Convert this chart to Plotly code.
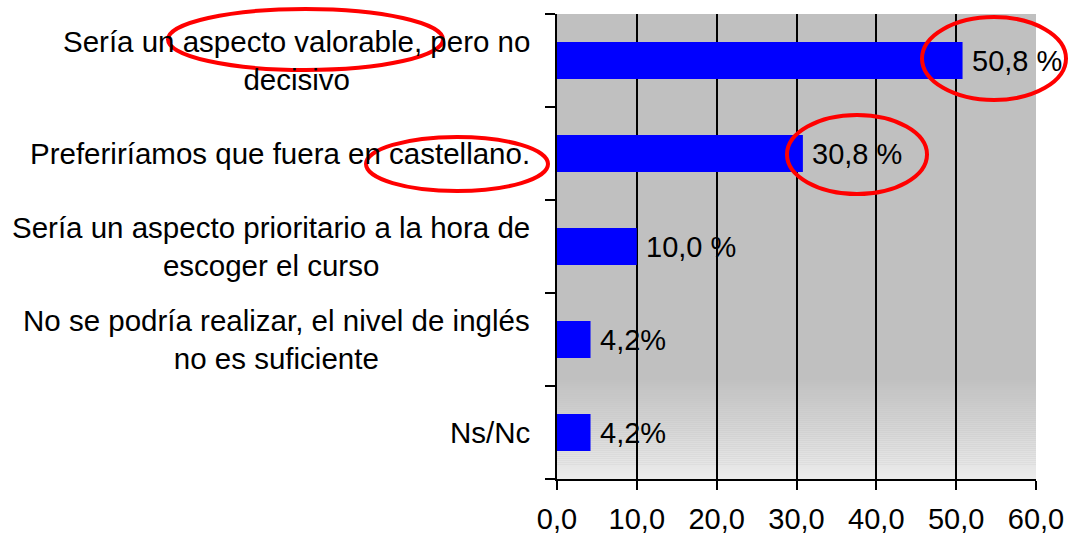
import plotly.graph_objects as go

categories = [
    "Sería un aspecto valorable, pero no<br>decisivo",
    "Preferiríamos que fuera en castellano.",
    "Sería un aspecto prioritario a la hora de<br>escoger el curso",
    "No se podría realizar, el nivel de inglés<br>no es suficiente",
    "Ns/Nc",
]
values = [50.8, 30.8, 10.0, 4.2, 4.2]
value_labels = ["50,8 %", "30,8 %", "10,0 %", "4,2%", "4,2%"]
x_tickvals = [0, 10, 20, 30, 40, 50, 60]
x_ticktext = ["0,0", "10,0", "20,0", "30,0", "40,0", "50,0", "60,0"]

W, H = 1069, 538
L, R, T, B = 557, 1036, 14, 479
FONT = "Liberation Sans, Arial, sans-serif"

def px(x):
    return (x - L) / (R - L)

def py(y):
    return (B - y) / (B - T)

fig = go.Figure()
fig.add_trace(go.Bar(
    y=list(range(len(categories))), x=values, orientation="h",
    marker=dict(color="#0000FF", line=dict(width=0)),
    width=0.4, cliponaxis=False, hoverinfo="skip",
))

shapes = []
# gradient at bottom of plot area
g0, g1 = 378, B
n = 50
for i in range(n):
    y0 = g0 + (g1 - g0) * i / n
    y1 = g0 + (g1 - g0) * (i + 1) / n
    t = (i + 0.5) / n
    c = int(round(192 + (236 - 192) * t))
    shapes.append(dict(type="rect", xref="paper", yref="paper",
                       x0=0, x1=1, y0=py(y1), y1=py(y0),
                       fillcolor=f"rgb({c},{c},{c})", line=dict(width=0),
                       layer="below"))

ellipses = [
    (922, 1066, 17, 100),
    (787, 927, 115, 194),
    (168, 443, 9, 70),
    (366, 548, 137, 191),
]
for x0, x1, y0, y1 in ellipses:
    shapes.append(dict(type="circle", xref="paper", yref="paper",
                       x0=px(x0), x1=px(x1), y0=py(y1), y1=py(y0),
                       line=dict(color="#FF0000", width=4),
                       fillcolor="rgba(0,0,0,0)", layer="above"))

annotations = []
for i, c in enumerate(categories):
    annotations.append(dict(
        xref="paper", yref="y", x=px(532), y=i, xanchor="right",
        yanchor="middle", align="center", text=c, showarrow=False,
        font=dict(family=FONT, size=29.5, color="black"),
    ))
for i, (v, lab) in enumerate(zip(values, value_labels)):
    annotations.append(dict(
        xref="x", yref="y", x=v, y=i, xanchor="left", xshift=7,
        yanchor="middle", text=lab, showarrow=False,
        font=dict(family=FONT, size=29, color="black"),
    ))

fig.update_layout(
    width=W, height=H,
    margin=dict(l=L, r=W - R, t=T, b=H - B, pad=0, autoexpand=False),
    paper_bgcolor="white", plot_bgcolor="#C0C0C0",
    showlegend=False, bargap=0.6,
    shapes=shapes, annotations=annotations,
    font=dict(family=FONT, size=29, color="black"),
    xaxis=dict(
        range=[0, 60], tickvals=x_tickvals, ticktext=x_ticktext,
        showgrid=True, gridcolor="black", gridwidth=2,
        showline=True, linecolor="black", linewidth=2,
        ticks="outside", ticklen=9, tickwidth=2, tickcolor="black",
        tickfont=dict(family=FONT, size=29, color="black"),
        ticklabelstandoff=4,
        zeroline=False, fixedrange=True, automargin=False,
    ),
    yaxis=dict(
        range=[len(categories) - 0.5, -0.5],
        tickvals=[i - 0.5 for i in range(len(categories) + 1)],
        showticklabels=False,
        showgrid=False, zeroline=False,
        showline=True, linecolor="black", linewidth=2,
        ticks="outside", ticklen=10, tickwidth=2, tickcolor="black",
        fixedrange=True, automargin=False,
    ),
)

fig.write_html(
    "out.html",
    config={"displayModeBar": False},
    post_script="document.body.style.margin='0';document.body.style.overflow='hidden';",
)
